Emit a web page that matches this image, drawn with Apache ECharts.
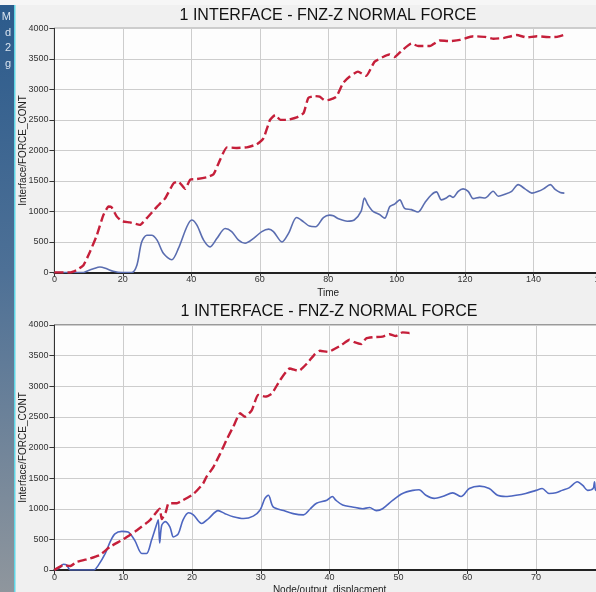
<!DOCTYPE html>
<html>
<head>
<meta charset="utf-8">
<script src="https://cdn.jsdelivr.net/npm/echarts@6.0.0/dist/echarts.min.js"></script>
<style>
html,body{margin:0;padding:0;overflow:hidden;background:#f0f0f0;}
#c{width:620px;height:592px;}
</style>
</head>
<body>
<div id="c"></div>
<script>
// ---- Texts ----
const chartTitle = '1 INTERFACE - FNZ-Z NORMAL FORCE';
const yAxisName = 'Interface/FORCE_CONT';
const topXName = 'Time';
const bottomXName = 'Node/output_displacment';
const sideLetters = ['M', 'd', '2', 'g'];

// ---- Top chart: Time axis ----
const topRedX = [0,4.5,6.5,8.5,10.4,12.4,14.3,15.8,16.7,18.2,19.7,22.1,25,27,30,32.3,34.8,36.2,38.2,39.7,41.6,44.5,46.5,48.4,50.4,53.3,56.2,59.1,61.1,63,64.5,66,67.9,70.8,72.8,74.2,76.2,77.5,79,80.5,82.4,84.3,86.3,88.7,91.1,93.5,96,97.9,99.4,101.4,104.3,106.3,109.7,112.6,115.5,118.5,122.4,125.8,128.3,131.2,135.1,138,141,145,146.9,149.3];
const topRedY = [0,0,40,120,340,610,940,1080,1070,920,840,820,780,890,1080,1210,1460,1490,1370,1520,1530,1560,1610,1845,2050,2040,2050,2100,2200,2500,2580,2500,2500,2540,2610,2860,2890,2880,2820,2830,2880,3100,3210,3290,3220,3450,3530,3570,3530,3630,3750,3710,3710,3800,3790,3810,3870,3860,3830,3840,3890,3850,3870,3855,3860,3900];

const topBlueX = [0,8.5,9.4,11.4,13.3,15.3,17.2,19.7,22.6,24.1,25.5,27,28.4,30,31.9,34.3,36.2,38.7,40.1,41.6,43.6,45.5,47.5,49.9,51.8,53.8,55.7,58.2,60.6,62.6,64,66.5,68.4,70.8,72.8,74.5,76.3,78.6,80.4,81.5,83,85.6,87.6,89.6,90.6,91.6,93.1,95,96.5,98,99.4,100.9,102.3,104.3,106.2,108.2,110.1,111.6,113.1,114.5,115.5,116.5,118,119.4,120.9,122.4,124.3,125.8,128.2,129.7,131.6,133.6,135.5,137.5,139.5,141.4,142.9,144.9,146.3,147.8,149];
const topBlueY = [0,0,20,60,90,60,20,0,0,120,500,610,610,530,310,210,390,750,860,780,530,420,560,720,670,530,480,560,670,710,670,500,640,900,830,760,750,900,940,930,880,840,860,1000,1220,1110,1000,950,890,1080,1120,1190,1050,1030,990,1140,1270,1320,1190,1220,1260,1230,1330,1370,1330,1210,1230,1220,1330,1250,1280,1330,1440,1370,1300,1330,1370,1440,1360,1310,1300];

// ---- Bottom chart: displacement axis ----
const botRedX = [0,1.3,2.3,3.2,5.2,6.6,8.1,10,12,13.9,15.3,15.6,16.2,16.6,17.8,18.7,20.2,21.6,22.1,23.1,24.1,25,26,27,27.7,28.7,29.6,30.6,31.6,32.8,34.2,35.5,36.7,37.9,38.6,39.8,40.4,41.7,42.9,43.6,44.6,45.3,46.3,47.7,48.7,49.6,50.6,51.6,52];
const botRedY = [0,80,65,130,190,245,380,500,650,816,1000,830,950,1090,1090,1140,1240,1410,1520,1680,1900,2120,2340,2560,2500,2610,2860,2830,2880,3100,3290,3250,3370,3530,3580,3560,3590,3670,3760,3720,3690,3780,3800,3810,3850,3820,3880,3870,3880];

const botBlueX = [0,0.8,1.3,1.8,2.3,5.7,6.4,7.4,8.1,8.8,9.8,10.7,11.7,12.7,13.4,14.1,14.9,15.1,15.3,15.6,16.1,16.8,17.3,18,18.7,19.5,20.2,21.4,22.4,23.8,24.8,26,27.5,28.9,29.9,30.6,31.1,31.8,33.3,34.7,36.2,37.2,38.1,39.6,40.4,40.9,41.9,43.3,44.8,45.8,46.8,47.7,49.2,50.6,52.1,53,54,55.2,56.4,57.9,59.1,60.3,61.8,63.2,64.4,65.6,67.1,68.5,70,70.9,71.9,72.9,73.8,74.8,76,76.8,77.5,78.3,78.5,78.7,79.5];
const botBlueY = [0,40,95,80,0,0,80,270,460,590,630,620,480,270,270,480,760,820,440,730,790,700,540,590,820,935,900,760,840,970,920,870,840,880,980,1170,1220,1030,970,920,900,1000,1090,1140,1200,1140,1060,1030,1000,1020,970,1000,1140,1250,1300,1310,1220,1170,1200,1260,1200,1330,1370,1330,1220,1200,1220,1250,1300,1330,1250,1260,1300,1340,1440,1380,1300,1330,1440,1300,1350];

const yTicks = [0,500,1000,1500,2000,2500,3000,3500,4000];

function zip(xs, ys){ return xs.map((x,i)=>[x, ys[i]]); }

const FONT = 'Liberation Sans';
const RED = '#c51f3a';
const BLUE = '#5a6db0';

function xAxisCfg(gi, max, interval, name, gap){
  return {
    type:'value', gridIndex:gi, min:0, max:max, interval:interval,
    name:name, nameLocation:'middle', nameGap:gap, nameMoveOverlap:false,
    nameTextStyle:{color:'#222', fontSize:10, fontFamily:FONT},
    axisLine:{show:true, onZero:false, lineStyle:{color:'#222', width:2}},
    axisTick:{show:true, length:4, lineStyle:{color:'#333'}},
    axisLabel:{color:'#333', fontSize:9, fontFamily:FONT, margin:3, showMaxLabel:true, showMinLabel:true,
               formatter:v=>String(v)},
    splitLine:{show:true, lineStyle:{color:'#cdcdcd', width:1}}
  };
}
function yAxisCfg(gi){
  return {
    type:'value', gridIndex:gi, min:yTicks[0], max:yTicks[yTicks.length-1], interval:yTicks[1]-yTicks[0],
    name:yAxisName, nameLocation:'middle', nameGap:31, nameRotate:90, nameMoveOverlap:false,
    nameTextStyle:{color:'#222', fontSize:10, fontFamily:FONT, verticalAlign:'middle'},
    axisLine:{show:true, lineStyle:{color:'#333', width:1}},
    axisTick:{show:true, length:5, lineStyle:{color:'#333'}},
    axisLabel:{color:'#333', fontSize:9, fontFamily:FONT, margin:6, formatter:v=>String(v)},
    splitLine:{show:true, lineStyle:{color:'#cdcdcd', width:1}}
  };
}

const chart = echarts.init(document.getElementById('c'), null, {renderer:'canvas'});
chart.setOption({
  animation:false,
  backgroundColor:'#f0f0f0',
  grid:[
    {left:54.4, top:28.3, width:547.6, height:244.2, show:true, backgroundColor:'#fdfdfd', borderColor:'#444', borderWidth:1,
     containLabel:false, outerBoundsMode:'none'},
    {left:54.4, top:325, width:550.4, height:245, show:true, backgroundColor:'#fdfdfd', borderColor:'#444', borderWidth:1,
     containLabel:false, outerBoundsMode:'none'}
  ],
  xAxis:[ xAxisCfg(0,160,20,topXName,16), xAxisCfg(1,80,10,bottomXName,15) ],
  yAxis:[ yAxisCfg(0), yAxisCfg(1) ],
  series:[
    {type:'line', xAxisIndex:0, yAxisIndex:0, data:zip(topBlueX, topBlueY), showSymbol:false, smooth:0.3,
     lineStyle:{color:BLUE, width:1.6}, z:2},
    {type:'line', xAxisIndex:0, yAxisIndex:0, data:zip(topRedX, topRedY), showSymbol:false, smooth:0.15,
     lineStyle:{color:RED, width:2.4, type:[9,4]}, z:3},
    {type:'line', xAxisIndex:1, yAxisIndex:1, data:zip(botBlueX, botBlueY), showSymbol:false, smooth:0.3,
     lineStyle:{color:'#4d66c0', width:1.6}, z:2},
    {type:'line', xAxisIndex:1, yAxisIndex:1, data:zip(botRedX, botRedY), showSymbol:false, smooth:0.15,
     lineStyle:{color:RED, width:2.4, type:[9,4]}, z:3}
  ],
  graphic:[
    {type:'rect', z:100, shape:{x:0,y:0,width:620,height:5}, style:{fill:'#f6f6f6'}},
    {type:'rect', z:100, shape:{x:0,y:5,width:14,height:587},
     style:{fill:new echarts.graphic.LinearGradient(0,0,0,1,[
       {offset:0,color:'#2c5b8c'},{offset:0.45,color:'#4d7096'},{offset:1,color:'#8f969d'}])}},
    {type:'rect', z:100, shape:{x:14,y:5,width:1.5,height:587}, style:{fill:'#5fd6e6'}},
    ...sideLetters.map((t,i)=>({type:'text', z:101, x:11, y:17+i*15.5,
      style:{text:t, fill:'#d7e2ee', font:'11px '+FONT, textAlign:'right', textVerticalAlign:'middle'}})),
    {type:'text', z:101, x:328, y:16, style:{text:chartTitle, fill:'#111', font:'16px '+FONT, textAlign:'center', textVerticalAlign:'middle'}},
    {type:'text', z:101, x:329, y:312, style:{text:chartTitle, fill:'#111', font:'16px '+FONT, textAlign:'center', textVerticalAlign:'middle'}}
  ]
});
</script>
</body>
</html>
